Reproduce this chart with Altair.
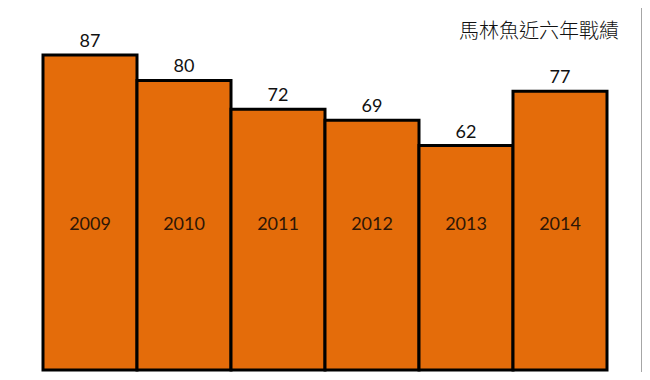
import altair as alt
import pandas as pd

years = ["2009", "2010", "2011", "2012", "2013", "2014"]
wins = [87, 80, 72, 69, 62, 77]
title_text = "馬林魚近六年戰績"

df = pd.DataFrame({"year": years, "wins": wins})

x = alt.X("year:N", sort=years, axis=None,
          scale=alt.Scale(range=[35, 599], paddingInner=0, paddingOuter=0))
yscale = alt.Scale(domain=[0, 100], range=[362, 0])

base = alt.Chart(df)

bars = base.mark_bar(color="#E46C0A", stroke="#000000", strokeWidth=3).encode(
    x=x,
    y=alt.Y("wins:Q", scale=yscale, axis=None),
)

values = base.mark_text(font="Lato", fontSize=18, color="#111111",
                        baseline="alphabetic", dy=-8).encode(
    x=x,
    y=alt.Y("wins:Q", scale=yscale, axis=None),
    text=alt.Text("wins:Q"),
)

year_labels = base.mark_text(font="Lato", fontSize=18, color="#2e1606",
                             baseline="middle").encode(
    x=x,
    y=alt.datum(40.0, scale=yscale),
    text=alt.Text("year:N"),
)

title = alt.Chart(pd.DataFrame({"t": [title_text]})).mark_text(
    font="Noto Sans CJK TC", fontSize=20, fontWeight=300, color="#111111",
    align="right", baseline="middle"
).encode(x=alt.value(611), y=alt.value(24), text="t:N")

frame = alt.Chart(pd.DataFrame({"a": [0]})).mark_rule(
    color="#a6a6a6", strokeWidth=1
).encode(x=alt.value(633.5), y=alt.value(0), y2=alt.value(364))

chart = alt.layer(bars, values, year_labels, title, frame).properties(
    width=634, height=364,
    autosize=alt.AutoSizeParams(type="none"),
    padding=0,
    background="white",
).configure_view(stroke=None)

chart.save("out.html", embed_options={"renderer": "svg", "actions": False})
